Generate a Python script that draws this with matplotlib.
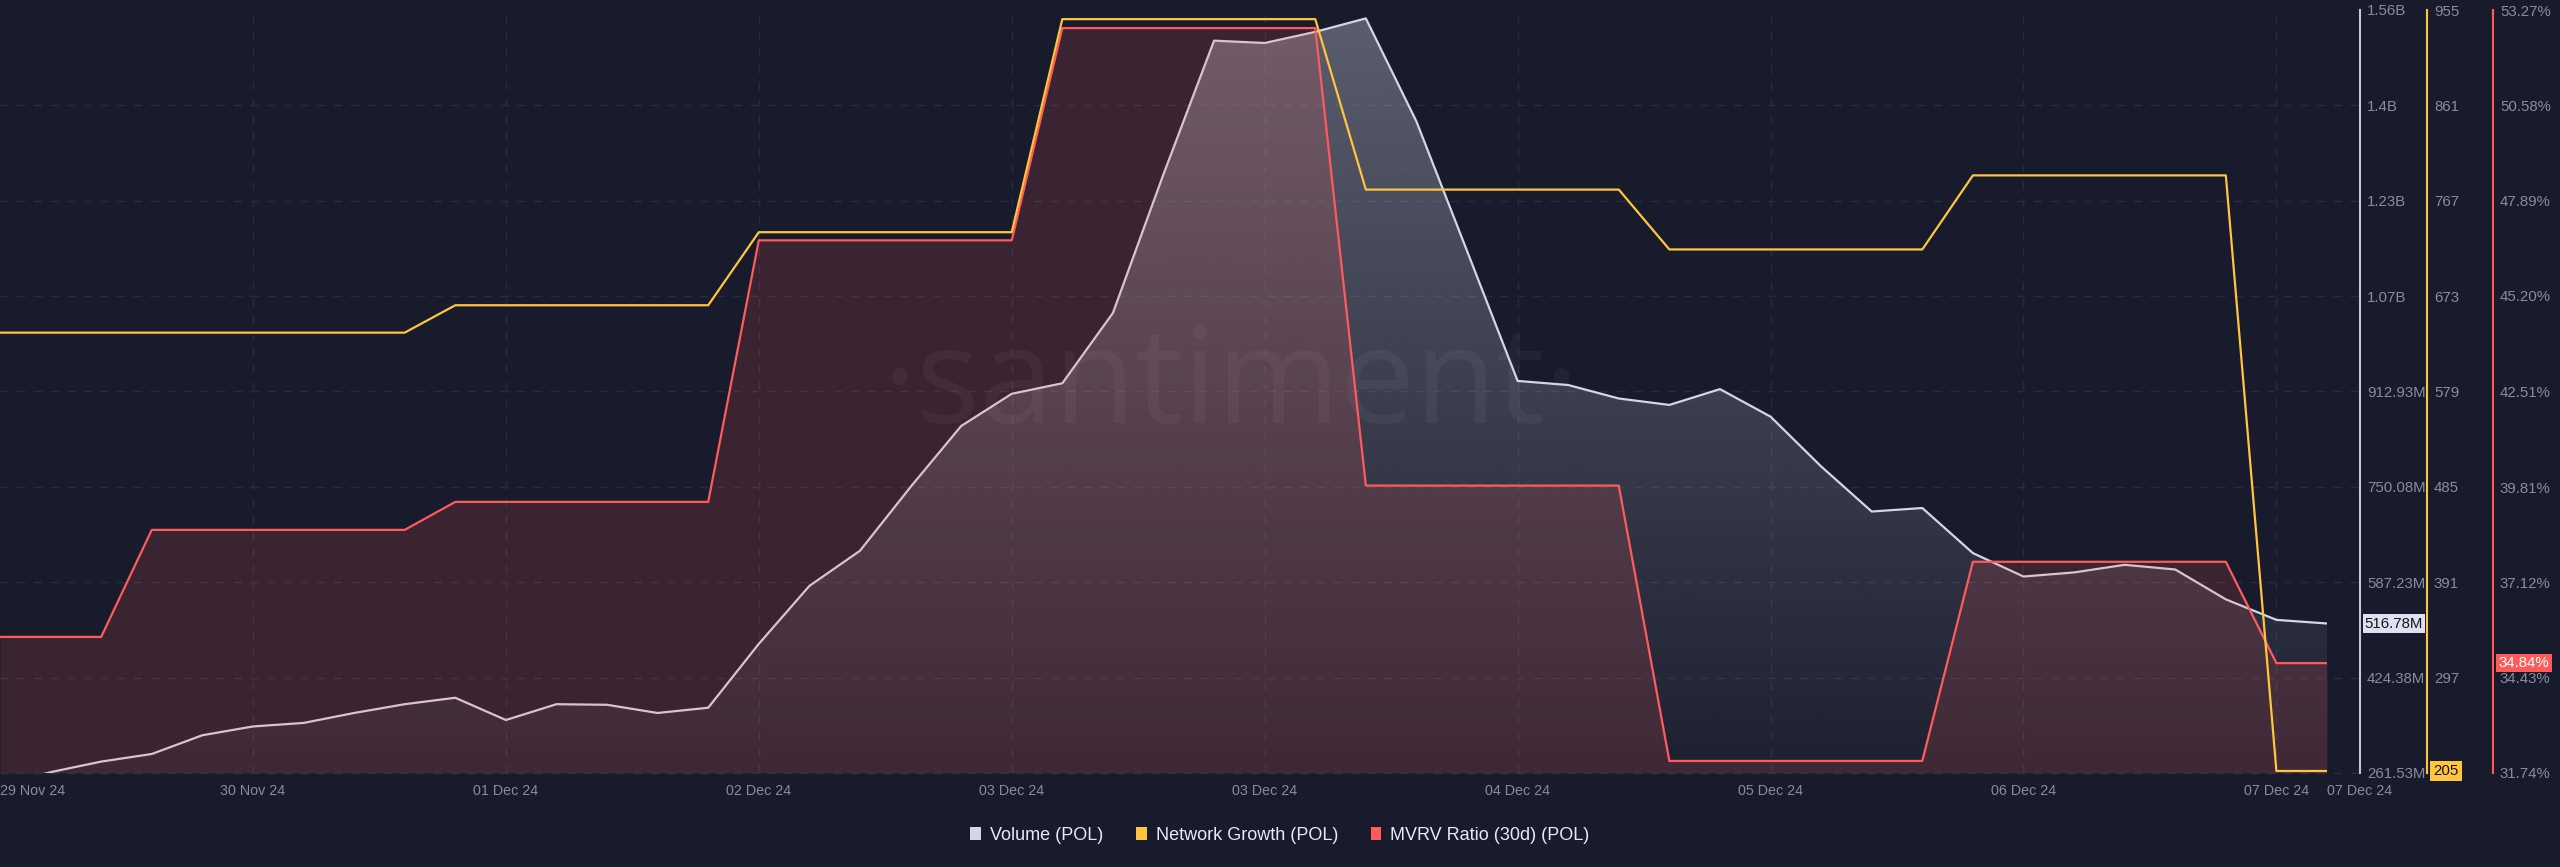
import numpy as np
import matplotlib
matplotlib.use("Agg")
import matplotlib.pyplot as plt
from matplotlib.patches import Patch

plt.rcParams['font.family'] = ['Liberation Sans', 'DejaVu Sans']

BG = '#181b2b'
GRID = '#272b3d'
TICK = '#878ca0'
VOL_C = '#d3d6e6'
NG_C = '#ffc53d'
MV_C = '#ff5b5b'

# 4-hourly points, 29 Nov 24 -> 07 Dec 24
t = np.arange(47)

volume_m = [240, 263, 281, 294, 326, 341, 347, 364, 379, 390,
            352, 379, 378, 364, 373, 482, 581, 641, 750, 854,
            909, 927, 1047, 1284, 1512, 1508, 1527, 1550, 1374, 1153,
            931, 924, 901, 890, 917, 870, 785, 708, 714, 637,
            597, 604, 617, 609, 558, 523, 516.78]

network_growth = [637, 637, 637, 637, 637, 637, 637, 637, 637,
                  664, 664, 664, 664, 664, 664,
                  736, 736, 736, 736, 736, 736,
                  946, 946, 946, 946, 946, 946,
                  778, 778, 778, 778, 778, 778,
                  719, 719, 719, 719, 719, 719,
                  792, 792, 792, 792, 792, 792,
                  205, 205]

mvrv = [35.58, 35.58, 35.58,
        38.60, 38.60, 38.60, 38.60, 38.60, 38.60,
        39.39, 39.39, 39.39, 39.39, 39.39, 39.39,
        46.77, 46.77, 46.77, 46.77, 46.77, 46.77,
        52.76, 52.76, 52.76, 52.76, 52.76, 52.76,
        39.85, 39.85, 39.85, 39.85, 39.85, 39.85,
        32.08, 32.08, 32.08, 32.08, 32.08, 32.08,
        37.70, 37.70, 37.70, 37.70, 37.70, 37.70,
        34.84, 34.84]

xtick_pos = [0, 5, 10, 15, 20, 25, 30, 35, 40, 45, 46]
xtick_labels = ['29 Nov 24', '30 Nov 24', '01 Dec 24', '02 Dec 24', '03 Dec 24',
                '03 Dec 24', '04 Dec 24', '05 Dec 24', '06 Dec 24', '07 Dec 24',
                '07 Dec 24']

vol_ticks = [261.53, 424.38, 587.23, 750.08, 912.93, 1075.78, 1238.63, 1401.48, 1564.33]
vol_labels = ['261.53M', '424.38M', '587.23M', '750.08M', '912.93M',
              '1.07B', '1.23B', '1.4B', '1.56B']
ng_ticks = [297, 391, 485, 579, 673, 767, 861, 955]
mv_ticks = [31.74, 34.43, 37.12, 39.81, 42.51, 45.20, 47.89, 50.58, 53.27]

W, H = 2560, 867
PR = 2327  # right edge of plot in px

fig = plt.figure(figsize=(W / 100, H / 100), dpi=100)
fig.patch.set_facecolor(BG)
ax = fig.add_axes([0, 1 - 773 / H, PR / W, 763 / H])
ax.set_facecolor(BG)
ax_m = ax.twinx()
ax_n = ax.twinx()


def style_axis(a, pos_px, color, ticks, labels, lo, hi):
    a.set_ylim(lo, hi)
    for s in ['top', 'left', 'bottom']:
        a.spines[s].set_visible(False)
    a.spines['right'].set_position(('axes', pos_px / PR))
    a.spines['right'].set_color(color)
    a.spines['right'].set_linewidth(1.5)
    a.yaxis.tick_right()
    a.set_yticks(ticks, labels)
    a.tick_params(axis='y', length=0, pad=5.0, labelsize=10.8, labelcolor=TICK,
                  left=False, labelleft=False)


# volume (main axes)
ax.set_xlim(0, 46)
style_axis(ax, 2360, '#c5c8d6', vol_ticks, vol_labels, vol_ticks[0], vol_ticks[-1])

for v in vol_ticks[:-1]:
    ax.axhline(v, xmin=0, xmax=2358 / PR, color=GRID, lw=1, ls=(0, (6, 6)),
               clip_on=False, zorder=0.5)
for xp in xtick_pos[1:-1]:
    ax.axvline(xp, color=GRID, lw=1, ls=(0, (6, 6)), zorder=0.5)

ax.set_xticks(xtick_pos, xtick_labels)
ax.tick_params(axis='x', length=0, pad=8, labelsize=10.3, labelcolor=TICK)
xl = ax.get_xticklabels()
xl[0].set_ha('left')
xl[-1].set_ha('left')

poly = ax.fill_between(t, volume_m, vol_ticks[0], color='none', lw=0)
grad = np.zeros((256, 1, 4))
grad[:, 0, 0:3] = matplotlib.colors.to_rgb('#dde0ee')
grad[:, 0, 3] = np.linspace(0.03, 0.34, 256)
im = ax.imshow(grad, extent=[0, 46, vol_ticks[0], vol_ticks[-1]], origin='lower',
               aspect='auto', zorder=1, interpolation='bilinear')
im.set_clip_path(poly.get_paths()[0], transform=ax.transData)
ax.plot(t, volume_m, color=VOL_C, lw=1.6, zorder=3)
ax.set_xlim(0, 46)
ax.set_ylim(vol_ticks[0], vol_ticks[-1])

ax.text(1230 / PR, (773 - 423) / 763, '\u00b7santiment\u00b7', transform=ax.transAxes,
        fontsize=96, family='Open Sans', color='white', alpha=0.045,
        ha='center', va='baseline', zorder=2.5)

ax.annotate(f'{volume_m[-1]:.2f}M', xy=(2394 / PR, volume_m[-1]),
            xycoords=('axes fraction', 'data'), ha='center', va='center',
            fontsize=10.8, color='#14161f', annotation_clip=False,
            bbox=dict(boxstyle='square,pad=0.15', fc='#dfe2ee', ec='none'))

# MVRV
style_axis(ax_m, 2493, MV_C, mv_ticks, [f'{v:.2f}%' for v in mv_ticks],
           mv_ticks[0], mv_ticks[-1])
ax_m.fill_between(t, mvrv, mv_ticks[0], color=MV_C, alpha=0.15, lw=0)
ax_m.plot(t, mvrv, color=MV_C, lw=1.6)
ax_m.annotate(f'{mvrv[-1]:.2f}%', xy=(2524 / PR, mvrv[-1]),
              xycoords=('axes fraction', 'data'), ha='center', va='center',
              fontsize=10.8, color='white', annotation_clip=False,
              bbox=dict(boxstyle='square,pad=0.15', fc=MV_C, ec='none'))

# Network growth
style_axis(ax_n, 2427, NG_C, ng_ticks, [str(v) for v in ng_ticks], 203, 955)
ax_n.plot(t, network_growth, color=NG_C, lw=1.6)
ax_n.annotate(f'{network_growth[-1]}', xy=(2446 / PR, network_growth[-1]),
              xycoords=('axes fraction', 'data'), ha='center', va='center',
              fontsize=10.8, color='#14161f', annotation_clip=False,
              bbox=dict(boxstyle='square,pad=0.2', fc=NG_C, ec='none'))

handles = [Patch(facecolor=VOL_C, edgecolor='none'),
           Patch(facecolor=NG_C, edgecolor='none'),
           Patch(facecolor=MV_C, edgecolor='none')]
fig.legend(handles, ['Volume (POL)', 'Network Growth (POL)', 'MVRV Ratio (30d) (POL)'],
           loc='center', bbox_to_anchor=(0.5, 1 - 835 / H), ncol=3, frameon=False,
           fontsize=13, handlelength=0.6, handleheight=0.7, handletextpad=0.5,
           columnspacing=1.8, labelcolor='#e8eaf2')

fig.savefig('out.png', dpi=100, facecolor=BG)
